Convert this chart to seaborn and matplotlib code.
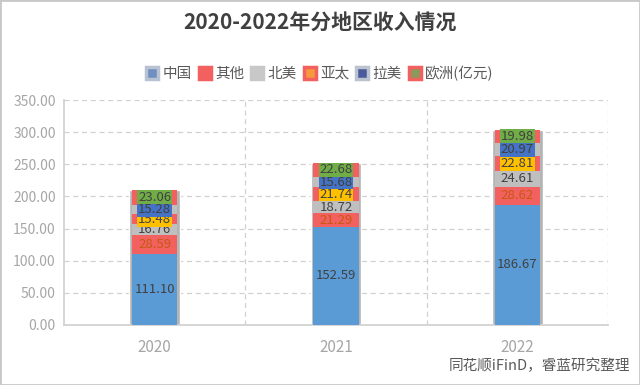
import numpy as np
import pandas as pd
import matplotlib
matplotlib.use("Agg")
import matplotlib.pyplot as plt
import seaborn as sns
from matplotlib.lines import Line2D
from matplotlib.patches import Rectangle

years = ["2020", "2021", "2022"]
regions = ["中国", "其他", "北美", "亚太", "拉美", "欧洲"]
china = [111.10, 152.59, 186.67]
other = [28.59, 21.29, 28.62]
north_america = [16.76, 18.72, 24.61]
asia_pacific = [15.48, 21.74, 22.81]
latin_america = [15.28, 15.68, 20.97]
europe = [23.06, 22.68, 19.98]
y_ticks = [0, 50, 100, 150, 200, 250, 300, 350]
source_note = "同花顺iFinD，睿蓝研究整理"

series = [china, other, north_america, asia_pacific, latin_america, europe]
seg_colors = ["#5b9bd5", "#f2605f", "#bfbfbf", "#f2605f", "#bfbfbf", "#f2605f"]
label_bg = [None, None, None, "#ffc000", "#4472c4", "#70ad47"]
label_fg = ["#404040", "#c55a11", "#404040", "#404040", "#404040", "#404040"]

sns.set_theme(style="white")
plt.rcParams["font.family"] = ["Noto Sans CJK SC", "DejaVu Sans"]

df = pd.DataFrame({"year": years})
for name, vals in zip(regions, series):
    df[name] = vals
cum = df[regions].cumsum(axis=1)
df["total"] = cum[regions[-1]]

fig = plt.figure(figsize=(6.4, 3.85), dpi=100)
ax = fig.add_axes([0.10, 0.156, 0.85, 0.584])

# gray outline bar behind the stack
sns.barplot(data=df, x="year", y="total", color="#b4b4b4", width=0.28,
            saturation=1, ax=ax, zorder=2)
# stacked segments, tallest first
for name, col in reversed(list(zip(regions, seg_colors))):
    sns.barplot(x=df["year"], y=cum[name], color=col, width=0.25,
                saturation=1, ax=ax, zorder=3, linewidth=0)

for i in range(len(years)):
    base = 0
    for j, name in enumerate(regions):
        v = df[name].iloc[i]
        kw = {}
        if label_bg[j]:
            kw["bbox"] = dict(boxstyle="square,pad=0.05", fc=label_bg[j], ec="none")
        ax.text(i, base + v / 2, f"{v:.2f}", ha="center", va="center",
                fontsize=9.5, color=label_fg[j], zorder=5, **kw)
        base += v

ax.set_ylim(0, 350)
ax.set_xlim(-0.5, 2.5)
ax.set_yticks(y_ticks)
ax.set_yticklabels([f"{t:.2f}" for t in y_ticks], color="#a6a6a6", fontsize=10)
ax.tick_params(axis="x", colors="#a6a6a6", labelsize=11, length=0, pad=10)
ax.tick_params(axis="y", length=0, pad=6)
ax.set_xlabel("")
ax.set_ylabel("")
for y in y_ticks[1:]:
    ax.axhline(y, color="#d0d0d0", ls=(0, (4, 3)), lw=0.9, zorder=0)
for x in [0.5, 1.5, 2.5]:
    ax.axvline(x, color="#d0d0d0", ls=(0, (4, 3)), lw=0.9, zorder=0)
for side in ["top", "right"]:
    ax.spines[side].set_visible(False)
ax.spines["left"].set_color("#d0d0d0")
ax.spines["bottom"].set_color("#d0d0d0")

fig.text(0.5, 0.94, "2020-2022年分地区收入情况", ha="center", va="center",
         fontsize=15, fontweight="bold", color="#404040")

handles = [
    Line2D([], [], marker="s", ls="", ms=8, mfc="#6f8fc0", mec="#b8c2d2", mew=2.5),
    Line2D([], [], marker="s", ls="", ms=8, mfc="#f2605f", mec="#f2605f", mew=2.5),
    Line2D([], [], marker="s", ls="", ms=8, mfc="#c8c8c8", mec="#c8c8c8", mew=2.5),
    Line2D([], [], marker="s", ls="", ms=8, mfc="#f59a3a", mec="#f2605f", mew=2.5),
    Line2D([], [], marker="s", ls="", ms=8, mfc="#4a5a9a", mec="#bcc3d0", mew=2.5),
    Line2D([], [], marker="s", ls="", ms=8, mfc="#8a9a5a", mec="#f2605f", mew=2.5),
]
labels = ["中国", "其他", "北美", "亚太", "拉美", "欧洲(亿元)"]
fig.legend(handles, labels, loc="center", bbox_to_anchor=(0.5, 0.81), ncol=6,
           frameon=False, fontsize=10.5, handlelength=0.8, handletextpad=0.3,
           columnspacing=0.5, labelcolor="#595959")

fig.text(0.985, 0.05, source_note, ha="right", va="center", fontsize=10.5,
         color="#595959")

fig.patches.append(Rectangle((0, 0), 1, 1, transform=fig.transFigure, fill=False,
                             ec="#c8c8c8", lw=2))

fig.savefig("out.png", dpi=100)
